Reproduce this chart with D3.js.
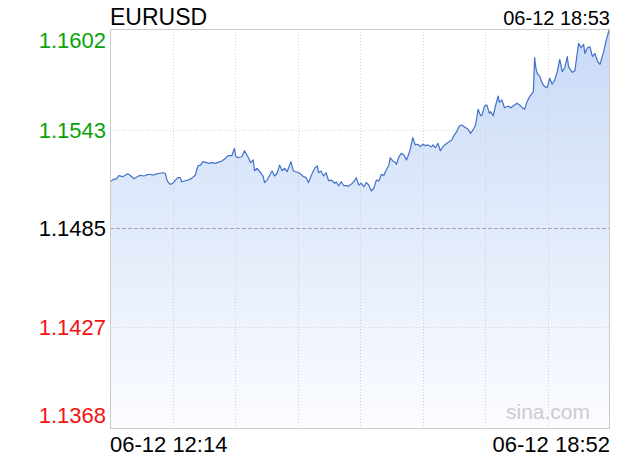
<!DOCTYPE html>
<html>
<head>
<meta charset="utf-8">
<script src="https://cdn.jsdelivr.net/npm/d3@7"></script>
<style>
html,body{margin:0;padding:0;background:#fff;}
svg{display:block;font-family:"Liberation Sans",Arial,sans-serif;}
</style>
</head>
<body>
<svg id="chart" width="620" height="460"></svg>
<script>
const symbol = "EURUSD";
const stampLabel = "06-12 18:53";
const prevClose = 1.1485;
const yTickValues = [1.1602, 1.1543, 1.1485, 1.1427, 1.1368];
const yTickLabels = ["1.1602", "1.1543", "1.1485", "1.1427", "1.1368"];
const timeDomain = ["12:14", "18:52"];
const xTickLabels = ["06-12 12:14", "06-12 18:52"];
const watermark = "sina.com";

const times = [
"12:14","12:17","12:19","12:21","12:24","12:25","12:28","12:30","12:33","12:35",
"12:38","12:41","12:43","12:46","12:48","12:51","12:54","12:56","12:58","12:59",
"13:00","13:02","13:04","13:06","13:08","13:10","13:11","13:14","13:16","13:19",
"13:22","13:23","13:24","13:26","13:28","13:31","13:33","13:35","13:38","13:40",
"13:43","13:46","13:48","13:51","13:53","13:54","13:56","13:59","14:01","14:04",
"14:06","14:08","14:09","14:11","14:14","14:16","14:17","14:19","14:23","14:25",
"14:27","14:29","14:31","14:33","14:35","14:38","14:40","14:43","14:45","14:48",
"14:50","14:52","14:55","14:57","14:59","15:00","15:02","15:04","15:06","15:08",
"15:10","15:13","15:14","15:16","15:18","15:20","15:22","15:24","15:26","15:29",
"15:30","15:32","15:34","15:36","15:38","15:40","15:42","15:44","15:46","15:48",
"15:50","15:52","15:53","15:56","15:57","15:59","16:01","16:02","16:04","16:06",
"16:08","16:10","16:11","16:13","16:15","16:17","16:19","16:21","16:23","16:25",
"16:27","16:30","16:31","16:33","16:35","16:37","16:39","16:42","16:44","16:46",
"16:48","16:50","16:52","16:54","16:56","16:59","17:01","17:03","17:05","17:07",
"17:09","17:10","17:12","17:14","17:16","17:17","17:19","17:21","17:23","17:24",
"17:26","17:28","17:31","17:33","17:36","17:38","17:40","17:42","17:44","17:46",
"17:48","17:50","17:51","17:52","17:53","17:54","17:56","17:58","18:00","18:02",
"18:04","18:06","18:08","18:10","18:12","18:14","18:16","18:18","18:19","18:22",
"18:24","18:25","18:27","18:29","18:31","18:32","18:34","18:36","18:38","18:40",
"18:42","18:44","18:45","18:47","18:49","18:51","18:52"
];
const prices = [
1.15124,1.15139,1.15140,1.15160,1.15154,1.15158,1.15171,1.15162,1.15142,1.15150,
1.15162,1.15158,1.15164,1.15168,1.15162,1.15170,1.15174,1.15177,1.15174,1.15144,
1.15124,1.15109,1.15115,1.15134,1.15148,1.15148,1.15124,1.15130,1.15134,1.15144,
1.15164,1.15193,1.15217,1.15222,1.15242,1.15236,1.15232,1.15236,1.15232,1.15238,
1.15246,1.15262,1.15277,1.15277,1.15320,1.15275,1.15265,1.15271,1.15306,1.15268,
1.15236,1.15252,1.15189,1.15203,1.15177,1.15154,1.15119,1.15134,1.15187,1.15158,
1.15174,1.15222,1.15189,1.15203,1.15183,1.15242,1.15187,1.15180,1.15174,1.15154,
1.15150,1.15119,1.15174,1.15203,1.15217,1.15177,1.15187,1.15158,1.15177,1.15130,
1.15134,1.15115,1.15124,1.15101,1.15124,1.15101,1.15101,1.15099,1.15109,1.15134,
1.15148,1.15105,1.15115,1.15095,1.15119,1.15105,1.15070,1.15086,1.15134,1.15129,
1.15168,1.15160,1.15180,1.15222,1.15265,1.15246,1.15238,1.15226,1.15271,1.15291,
1.15281,1.15252,1.15271,1.15314,1.15383,1.15340,1.15344,1.15330,1.15344,1.15336,
1.15340,1.15328,1.15340,1.15324,1.15350,1.15306,1.15330,1.15350,1.15359,1.15369,
1.15398,1.15418,1.15451,1.15457,1.15447,1.15432,1.15408,1.15428,1.15457,1.15549,
1.15512,1.15512,1.15568,1.15574,1.15525,1.15535,1.15511,1.15574,1.15627,1.15590,
1.15604,1.15558,1.15568,1.15558,1.15574,1.15584,1.15574,1.15560,1.15549,1.15594,
1.15623,1.15643,1.15652,1.15852,1.15790,1.15760,1.15744,1.15702,1.15682,1.15676,
1.15731,1.15696,1.15721,1.15770,1.15842,1.15770,1.15793,1.15858,1.15799,1.15766,
1.15774,1.15828,1.15936,1.15910,1.15930,1.15877,1.15910,1.15916,1.15858,1.15877,
1.15832,1.15813,1.15838,1.15887,1.15955,1.16008,1.16015
];

const parseT = d3.timeParse("%H:%M");
const data = times.map((t, i) => ({ t: parseT(t), v: prices[i] }));

const L = 110, R = 610, T = 29, B = 428;
const svg = d3.select("#chart");

const x = d3.scaleTime().domain(timeDomain.map(parseT)).range([L, R]);
const y = d3.scaleLinear().domain([yTickValues[4], yTickValues[0]]).range([B, T]);

const defs = svg.append("defs");
const grad = defs.append("linearGradient").attr("id", "fillGrad")
  .attr("gradientUnits", "userSpaceOnUse")
  .attr("x1", 0).attr("y1", T).attr("x2", 0).attr("y2", B);
grad.append("stop").attr("offset", "0%").attr("stop-color", "#c8daf7");
grad.append("stop").attr("offset", "100%").attr("stop-color", "#fbfcff");

const area = d3.area().x(d => x(d.t)).y0(B).y1(d => y(d.v));
svg.append("path").datum(data).attr("d", area).attr("fill", "url(#fillGrad)");

const vGrid = d3.range(1, 8).map(i => L + (R - L) * i / 8);
svg.append("g").selectAll("line").data(vGrid).join("line")
  .attr("x1", d => Math.round(d) + 0.5).attr("x2", d => Math.round(d) + 0.5)
  .attr("y1", T).attr("y2", B)
  .attr("stroke", "#cfcfcf").attr("stroke-width", 1).attr("stroke-dasharray", "1,2");

const hGrid = [yTickValues[1], yTickValues[3]];
svg.append("g").selectAll("line").data(hGrid).join("line")
  .attr("x1", L).attr("x2", R)
  .attr("y1", d => Math.round(y(d)) + 0.5).attr("y2", d => Math.round(y(d)) + 0.5)
  .attr("stroke", "#d6d6d6").attr("stroke-width", 1).attr("stroke-dasharray", "1,2");

svg.append("line")
  .attr("x1", L).attr("x2", R)
  .attr("y1", Math.round(y(prevClose)) + 0.5).attr("y2", Math.round(y(prevClose)) + 0.5)
  .attr("stroke", "#a4a4b8").attr("stroke-width", 1).attr("stroke-dasharray", "4,2");

const line = d3.line().x(d => x(d.t)).y(d => y(d.v));
svg.append("path").datum(data).attr("d", line)
  .attr("fill", "none").attr("stroke", "#4272c8").attr("stroke-width", 1.2)
  .attr("stroke-linejoin", "round");

svg.append("rect").attr("x", L + 0.5).attr("y", T + 0.5)
  .attr("width", R - L - 1).attr("height", B - T)
  .attr("fill", "none").attr("stroke", "#cccccc").attr("stroke-width", 1);

const yColor = v => v > prevClose ? "#09a309" : (v < prevClose ? "#f01414" : "#000");
svg.append("g").selectAll("text").data(yTickValues).join("text")
  .attr("x", 106)
  .attr("y", (d, i) => y(d) + (i === 0 ? 11 : (i === 4 ? -13 : 0)))
  .attr("dy", "0.36em")
  .attr("text-anchor", "end")
  .attr("font-size", 22)
  .attr("fill", d => yColor(d))
  .text((d, i) => yTickLabels[i]);

svg.append("text").attr("x", 110).attr("y", 25).attr("font-size", 23)
  .attr("fill", "#000").text(symbol);
svg.append("text").attr("x", 610).attr("y", 25).attr("font-size", 20)
  .attr("text-anchor", "end").attr("fill", "#000").text(stampLabel);

svg.append("text").attr("x", L).attr("y", 452).attr("font-size", 22)
  .attr("fill", "#000").text(xTickLabels[0]);
svg.append("text").attr("x", R).attr("y", 452).attr("font-size", 22)
  .attr("text-anchor", "end").attr("fill", "#000").text(xTickLabels[1]);

svg.append("text").attr("x", 590).attr("y", 419).attr("font-size", 21)
  .attr("text-anchor", "end").attr("fill", "#cccccc").text(watermark);
</script>
</body>
</html>
